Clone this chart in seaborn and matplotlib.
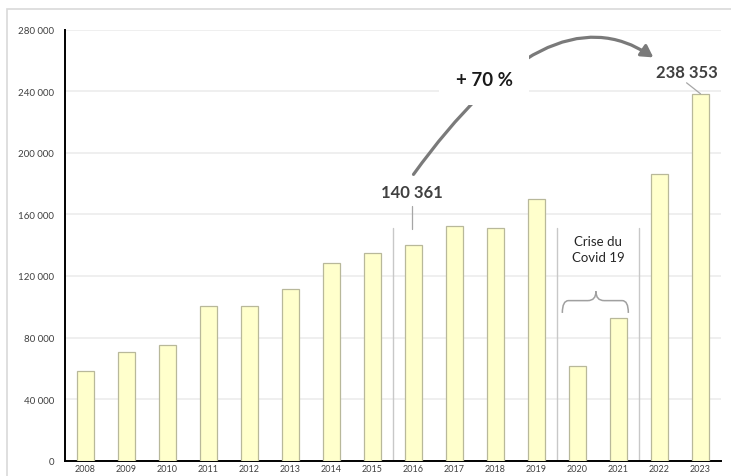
import matplotlib
matplotlib.use("Agg")
import matplotlib.pyplot as plt
import seaborn as sns
import pandas as pd
import numpy as np
from matplotlib.path import Path
from matplotlib.patches import FancyArrowPatch, PathPatch, Rectangle

years = ["2008", "2009", "2010", "2011", "2012", "2013", "2014", "2015",
         "2016", "2017", "2018", "2019", "2020", "2021", "2022", "2023"]
values = [58000, 70400, 75200, 100700, 100500, 111500, 128300, 134800,
          140361, 152500, 151400, 169800, 61400, 92500, 186000, 238353]
yticks = [0, 40000, 80000, 120000, 160000, 200000, 240000, 280000]
growth_label = "+ 70 %"
covid_label = "Crise du\nCovid 19"

sns.set_style("white")
plt.rcParams["font.family"] = ["Lato", "DejaVu Sans"]

df = pd.DataFrame({"year": years, "value": values})

fig = plt.figure(figsize=(7.31, 4.77), dpi=100)
ax = fig.add_axes([65 / 731, (477 - 461.7) / 477, 656 / 731, 431 / 477])

# outer light frame
fig.patches.append(Rectangle((7 / 731, -0.1), 1.1, (477 - 10) / 477 + 0.1,
                             transform=fig.transFigure, fill=False,
                             edgecolor="#d9d9d9", linewidth=1.2, zorder=0))

sns.barplot(data=df, x="year", y="value", ax=ax, color="#FFFFCC",
            edgecolor="#b8b89a", linewidth=0.9, width=0.4, saturation=1,
            zorder=3)

ax.set_xlim(-0.5, len(years) - 0.5)
ax.set_ylim(0, 280000)
ax.set_yticks(yticks)
ax.set_yticklabels([f"{v:,}".replace(",", " ") for v in yticks],
                   fontsize=7, color="#404040")
ax.yaxis.grid(True, color="#ececec", linewidth=1.2, zorder=0)
ax.set_axisbelow(True)
ax.set_xlabel("")
ax.set_ylabel("")

for s in ["top", "right"]:
    ax.spines[s].set_visible(False)
for s in ["left", "bottom"]:
    ax.spines[s].set_color("black")
    ax.spines[s].set_linewidth(1.4)

ax.tick_params(axis="y", direction="out", length=5, width=1, color="black", pad=3)
ax.set_xticks(range(len(years)))
ax.set_xticklabels(years, fontsize=6.5, color="#404040")
ax.tick_params(axis="x", which="major", length=0, pad=2.5)
ax.set_xticks(np.arange(-0.5, len(years), 1.0), minor=True)
ax.tick_params(axis="x", which="minor", direction="out", length=4, width=1.2,
               color="black")

# separators
for xb in [7.5, 11.5, 13.5]:
    ax.plot([xb, xb], [0, 151000], color="#c8c8c8", linewidth=1, zorder=2)

i16 = years.index("2016")
i23 = years.index("2023")
v16 = values[i16]
v23 = values[i23]

# value labels with leader lines
ax.text(i16 - 0.04, 174300, f"{v16:,}".replace(",", " "), ha="center",
        va="center", fontsize=12, fontweight="bold", color="#404040", zorder=6)
ax.plot([i16 - 0.04, i16 - 0.04], [v16 + 10000, v16 + 25000],
        color="#a6a6a6", linewidth=0.9, zorder=4)
ax.text(i23 - 0.33, 252700, f"{v23:,}".replace(",", " "), ha="center",
        va="center", fontsize=12, fontweight="bold", color="#404040", zorder=6)
ax.plot([i23 - 0.34, i23], [245500, v23], color="#a6a6a6", linewidth=0.9,
        zorder=4)

# curved arrow
p0 = (i16, 186000)
c = (11.3, 307800)
p2 = (13.85, 262000)
path = Path([p0, c, p2], [Path.MOVETO, Path.CURVE3, Path.CURVE3])
arrow = FancyArrowPatch(path=path, arrowstyle="-|>,head_length=7,head_width=4",
                        color="#7a7a7a", linewidth=2.3, transform=ax.transData,
                        clip_on=False, zorder=5)
ax.add_patch(arrow)

ax.text(9.72, 247600, growth_label, ha="center", va="center", fontsize=13.5,
        fontweight="bold", color="#1a1a1a", zorder=7,
        bbox=dict(boxstyle="square,pad=0.9", facecolor="white", edgecolor="none"))

# covid annotation
ax.text(12.5, 137500, covid_label, ha="center", va="center", fontsize=9.5,
        color="#262626", linespacing=1.45, zorder=6)

# curly brace
xl, xr, xm = 11.63, 13.24, 12.45
yb, yt, ytip = 96000, 104000, 110000
brace = Path(
    [(xl, yb), (xl, yt), (xl + 0.15, yt), (xm - 0.2, yt), (xm, yt), (xm, ytip),
     (xm, yt), (xm + 0.2, yt), (xr - 0.15, yt), (xr, yt), (xr, yb)],
    [Path.MOVETO, Path.CURVE3, Path.CURVE3, Path.LINETO, Path.CURVE3, Path.CURVE3,
     Path.CURVE3, Path.CURVE3, Path.LINETO, Path.CURVE3, Path.CURVE3])
ax.add_patch(PathPatch(brace, facecolor="none", edgecolor="#a0a0a0",
                       linewidth=1.1, zorder=4))

fig.savefig("out.png", dpi=100)
